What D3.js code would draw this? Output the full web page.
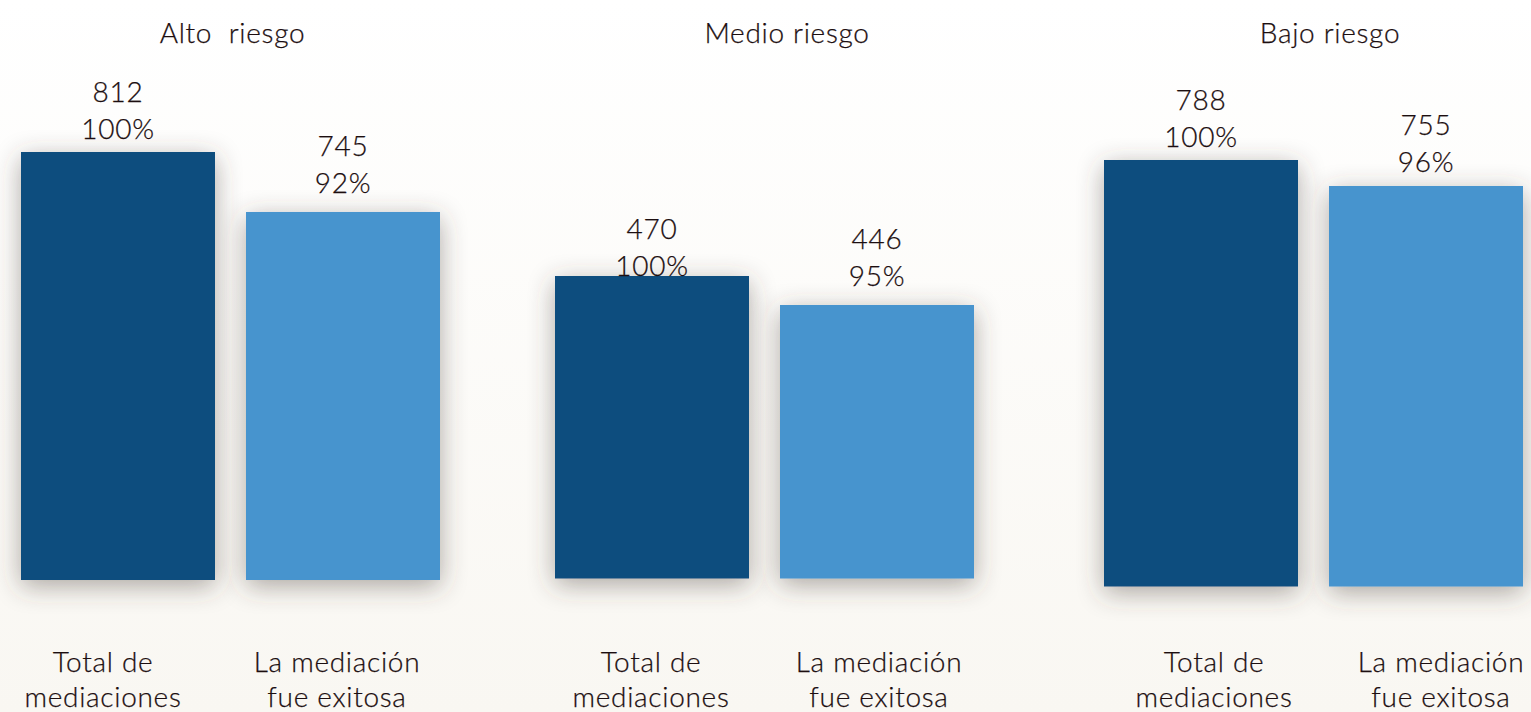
<!DOCTYPE html>
<html><head><meta charset="utf-8">
<script src="https://cdn.jsdelivr.net/npm/d3@7"></script>
<style>
html,body{margin:0;padding:0;background:#fff;}
svg{display:block;}
text{font-family:Lato,"Open Sans",sans-serif;font-weight:300;fill:#1c0e10;letter-spacing:0.7px;stroke:#1c0e10;stroke-width:0.25px;}
</style></head>
<body>
<svg id="chart" width="1531" height="712"></svg>
<script>
// ---- data ----
const panels = ["Alto  riesgo", "Medio riesgo", "Bajo riesgo"];
const categories = ["Total de mediaciones", "La mediación fue exitosa"];
const categoryLines = [["Total de", "mediaciones"], ["La mediación", "fue exitosa"]];
const totalValues = [812, 470, 788];
const exitosaValues = [745, 446, 755];
const percentLabels = [["100%", "92%"], ["100%", "95%"], ["100%", "96%"]];

// ---- layout (per panel) ----
const layout = [
  {x0: 21,   floor: 334,   base: 580,   top: 152, titleX: 232.5, labelDx: [-15, -6], gap: [13.5, 19]},
  {x0: 555,  floor: 219.7, base: 578.5, top: 276, titleX: 787,   labelDx: [-1, 2],   gap: [0, 19]},
  {x0: 1104, floor: 246.7, base: 586.5, top: 160, titleX: 1330,  labelDx: [13, 15],  gap: [13.5, 14.5]}
];
const colors = ["#0c4e7e", "#4694ce"];

const svg = d3.select("#chart");
const W = 1531, H = 712;
const defs = svg.append("defs");
const grad = defs.append("linearGradient").attr("id", "bg").attr("x1", 0).attr("y1", 0).attr("x2", 0).attr("y2", 1);
grad.append("stop").attr("offset", "0%").attr("stop-color", "#ffffff");
grad.append("stop").attr("offset", "100%").attr("stop-color", "#f9f7f2");
const f = defs.append("filter").attr("id", "shadow").attr("x", "-30%").attr("y", "-30%").attr("width", "160%").attr("height", "160%");
f.append("feDropShadow").attr("dx", 0).attr("dy", 6).attr("stdDeviation", 13)
  .attr("flood-color", "#4a4238").attr("flood-opacity", 0.45);

svg.append("rect").attr("width", W).attr("height", H).attr("fill", "url(#bg)");

panels.forEach((title, p) => {
  const L = layout[p];
  const vals = [totalValues[p], exitosaValues[p]];
  const x = d3.scaleBand().domain(categories).range([L.x0, L.x0 + 419]).paddingInner(0.1378).paddingOuter(0);
  const y = d3.scaleLinear().domain([L.floor, d3.max(vals)]).range([L.base, L.top]);
  const g = svg.append("g");

  g.append("text").attr("x", L.titleX).attr("y", 43).attr("text-anchor", "middle")
    .style("font-size", "28px").style("white-space", "pre").text(title);

  g.selectAll("rect.bar").data(vals).enter().append("rect")
    .attr("class", "bar")
    .attr("x", (d, i) => x(categories[i]))
    .attr("width", x.bandwidth())
    .attr("y", d => y(d))
    .attr("height", d => L.base - y(d))
    .attr("fill", (d, i) => colors[i])
    .attr("filter", "url(#shadow)");

  vals.forEach((v, i) => {
    const cx = x(categories[i]) + x.bandwidth() / 2;
    const t = g.append("text").attr("text-anchor", "middle").style("font-size", "28px");
    const yb = y(v) - L.gap[i];
    t.append("tspan").attr("x", cx).attr("y", yb - 37).text(v);
    t.append("tspan").attr("x", cx).attr("y", yb).text(percentLabels[p][i]);

    const c = g.append("text").attr("text-anchor", "middle").style("font-size", "28px");
    categoryLines[i].forEach((line, k) => {
      c.append("tspan").attr("x", cx + L.labelDx[i]).attr("y", 672 + k * 35).text(line);
    });
  });
});
</script>
</body></html>
